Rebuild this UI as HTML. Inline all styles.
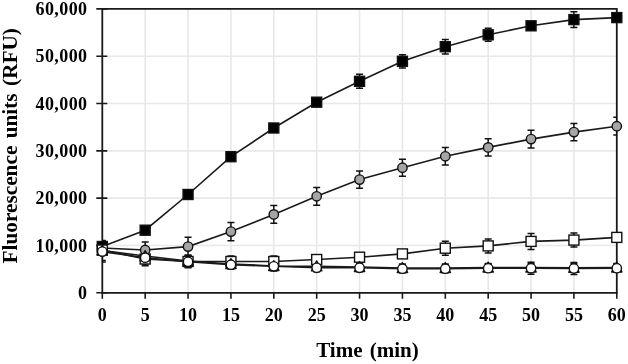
<!DOCTYPE html>
<html><head><meta charset="utf-8"><style>
html,body{margin:0;padding:0;background:#fff;width:628px;height:364px;overflow:hidden}
svg{display:block;will-change:transform}
text{font-family:"Liberation Serif",serif}
</style></head><body>
<svg width="628" height="364" viewBox="0 0 628 364">
<rect width="628" height="364" fill="#fff"/>
<defs><clipPath id="pa"><rect x="102.30" y="8.90" width="514.50" height="283.90"/></clipPath></defs>
<path d="M145.18 8.90V292.80 M188.05 8.90V292.80 M230.93 8.90V292.80 M273.80 8.90V292.80 M316.68 8.90V292.80 M359.55 8.90V292.80 M402.43 8.90V292.80 M445.30 8.90V292.80 M488.18 8.90V292.80 M531.05 8.90V292.80 M573.92 8.90V292.80 M102.30 245.48H616.80 M102.30 198.17H616.80 M102.30 150.85H616.80 M102.30 103.53H616.80 M102.30 56.22H616.80" stroke="#e8e8e8" stroke-width="1.6" fill="none"/>
<path d="M102.30 8.90H616.80V292.80" stroke="#1a1a1a" stroke-width="1.8" fill="none"/>
<path d="M102.30 8.00V292.80H617.70" stroke="#1a1a1a" stroke-width="1.8" fill="none"/>
<path d="M96.30 292.80H107.30 M96.30 245.48H107.30 M96.30 198.17H107.30 M96.30 150.85H107.30 M96.30 103.53H107.30 M96.30 56.22H107.30 M96.30 8.90H107.30 M102.30 292.80V298.80 M145.18 292.80V298.80 M188.05 292.80V298.80 M230.93 292.80V298.80 M273.80 292.80V298.80 M316.68 292.80V298.80 M359.55 292.80V298.80 M402.43 292.80V298.80 M445.30 292.80V298.80 M488.18 292.80V298.80 M531.05 292.80V298.80 M573.92 292.80V298.80 M616.80 292.80V298.80" stroke="#1a1a1a" stroke-width="1.6" fill="none"/>
<path d="M102.30 242.00V254.00M98.80 242.00H105.80M98.80 254.00H105.80 M145.18 242.00V258.00M141.68 242.00H148.68M141.68 258.00H148.68 M188.05 237.30V255.90M184.55 237.30H191.55M184.55 255.90H191.55 M230.93 222.40V240.80M227.43 222.40H234.43M227.43 240.80H234.43 M273.80 205.60V223.20M270.30 205.60H277.30M270.30 223.20H277.30 M316.68 187.40V205.20M313.18 187.40H320.18M313.18 205.20H320.18 M359.55 170.90V188.30M356.05 170.90H363.05M356.05 188.30H363.05 M402.43 159.20V176.20M398.93 159.20H405.93M398.93 176.20H405.93 M445.30 147.50V165.10M441.80 147.50H448.80M441.80 165.10H448.80 M488.18 138.70V156.10M484.68 138.70H491.68M484.68 156.10H491.68 M531.05 130.30V147.90M527.55 130.30H534.55M527.55 147.90H534.55 M573.92 123.40V140.80M570.42 123.40H577.42M570.42 140.80H577.42 M616.80 117.30V135.10M613.30 117.30H620.30M613.30 135.10H620.30" stroke="#111" stroke-width="1.5" fill="none" clip-path="url(#pa)"/>
<path d="M102.30 241.00V252.00M98.80 241.00H105.80M98.80 252.00H105.80 M145.18 227.20V233.20M141.68 227.20H148.68M141.68 233.20H148.68 M188.05 191.50V197.50M184.55 191.50H191.55M184.55 197.50H191.55 M230.93 153.70V159.70M227.43 153.70H234.43M227.43 159.70H234.43 M273.80 125.00V131.00M270.30 125.00H277.30M270.30 131.00H277.30 M316.68 99.20V105.20M313.18 99.20H320.18M313.18 105.20H320.18 M359.55 74.30V88.30M356.05 74.30H363.05M356.05 88.30H363.05 M402.43 54.70V67.90M398.93 54.70H405.93M398.93 67.90H405.93 M445.30 39.40V54.00M441.80 39.40H448.80M441.80 54.00H448.80 M488.18 28.30V41.30M484.68 28.30H491.68M484.68 41.30H491.68 M531.05 21.80V29.80M527.55 21.80H534.55M527.55 29.80H534.55 M573.92 11.80V27.40M570.42 11.80H577.42M570.42 27.40H577.42 M616.80 13.60V21.60M613.30 13.60H620.30M613.30 21.60H620.30" stroke="#111" stroke-width="1.5" fill="none" clip-path="url(#pa)"/>
<path d="M102.30 246.00V254.00M98.80 246.00H105.80M98.80 254.00H105.80 M145.18 256.00V262.00M141.68 256.00H148.68M141.68 262.00H148.68 M188.05 256.50V266.50M184.55 256.50H191.55M184.55 266.50H191.55 M230.93 256.00V267.00M227.43 256.00H234.43M227.43 267.00H234.43 M273.80 256.00V267.00M270.30 256.00H277.30M270.30 267.00H277.30 M316.68 255.50V263.50M313.18 255.50H320.18M313.18 263.50H320.18 M359.55 253.20V261.20M356.05 253.20H363.05M356.05 261.20H363.05 M402.43 249.90V257.90M398.93 249.90H405.93M398.93 257.90H405.93 M445.30 241.20V255.20M441.80 241.20H448.80M441.80 255.20H448.80 M488.18 238.90V252.90M484.68 238.90H491.68M484.68 252.90H491.68 M531.05 233.40V249.40M527.55 233.40H534.55M527.55 249.40H534.55 M573.92 233.10V247.10M570.42 233.10H577.42M570.42 247.10H577.42 M616.80 233.40V241.40M613.30 233.40H620.30M613.30 241.40H620.30" stroke="#111" stroke-width="1.5" fill="none" clip-path="url(#pa)"/>
<path d="M102.30 240.50V260.50M98.80 240.50H105.80M98.80 260.50H105.80 M145.18 248.00V264.00M141.68 248.00H148.68M141.68 264.00H148.68 M188.05 255.00V267.00M184.55 255.00H191.55M184.55 267.00H191.55 M230.93 259.00V269.00M227.43 259.00H234.43M227.43 269.00H234.43 M273.80 261.00V271.00M270.30 261.00H277.30M270.30 271.00H277.30 M316.68 262.40V270.40M313.18 262.40H320.18M313.18 270.40H320.18 M359.55 263.00V271.00M356.05 263.00H363.05M356.05 271.00H363.05 M402.43 264.00V272.00M398.93 264.00H405.93M398.93 272.00H405.93 M445.30 264.00V272.00M441.80 264.00H448.80M441.80 272.00H448.80 M488.18 263.60V271.60M484.68 263.60H491.68M484.68 271.60H491.68 M531.05 263.50V271.50M527.55 263.50H534.55M527.55 271.50H534.55 M573.92 263.70V271.70M570.42 263.70H577.42M570.42 271.70H577.42 M616.80 263.50V271.50M613.30 263.50H620.30M613.30 271.50H620.30" stroke="#111" stroke-width="1.5" fill="none" clip-path="url(#pa)"/>
<path d="M102.30 241.30V261.90M98.80 241.30H105.80M98.80 261.90H105.80 M145.18 249.70V265.70M141.68 249.70H148.68M141.68 265.70H148.68 M188.05 255.80V267.80M184.55 255.80H191.55M184.55 267.80H191.55 M230.93 260.70V268.70M227.43 260.70H234.43M227.43 268.70H234.43 M273.80 262.30V270.30M270.30 262.30H277.30M270.30 270.30H277.30 M316.68 263.80V271.80M313.18 263.80H320.18M313.18 271.80H320.18 M359.55 263.80V271.80M356.05 263.80H363.05M356.05 271.80H363.05 M402.43 264.70V272.70M398.93 264.70H405.93M398.93 272.70H405.93 M445.30 264.70V272.70M441.80 264.70H448.80M441.80 272.70H448.80 M488.18 264.20V272.20M484.68 264.20H491.68M484.68 272.20H491.68 M531.05 262.20V274.20M527.55 262.20H534.55M527.55 274.20H534.55 M573.92 262.50V274.50M570.42 262.50H577.42M570.42 274.50H577.42 M616.80 264.20V272.20M613.30 264.20H620.30M613.30 272.20H620.30" stroke="#111" stroke-width="1.5" fill="none" clip-path="url(#pa)"/>
<path d="M102.30 248.00 L145.18 250.00 L188.05 246.60 L230.93 231.60 L273.80 214.40 L316.68 196.30 L359.55 179.60 L402.43 167.70 L445.30 156.30 L488.18 147.40 L531.05 139.10 L573.92 132.10 L616.80 126.20" stroke="#1a1a1a" stroke-width="1.6" fill="none"/>
<circle cx="102.30" cy="248.00" r="4.7" fill="#a5a5a5" stroke="#111" stroke-width="1.4"/><circle cx="145.18" cy="250.00" r="4.7" fill="#a5a5a5" stroke="#111" stroke-width="1.4"/><circle cx="188.05" cy="246.60" r="4.7" fill="#a5a5a5" stroke="#111" stroke-width="1.4"/><circle cx="230.93" cy="231.60" r="4.7" fill="#a5a5a5" stroke="#111" stroke-width="1.4"/><circle cx="273.80" cy="214.40" r="4.7" fill="#a5a5a5" stroke="#111" stroke-width="1.4"/><circle cx="316.68" cy="196.30" r="4.7" fill="#a5a5a5" stroke="#111" stroke-width="1.4"/><circle cx="359.55" cy="179.60" r="4.7" fill="#a5a5a5" stroke="#111" stroke-width="1.4"/><circle cx="402.43" cy="167.70" r="4.7" fill="#a5a5a5" stroke="#111" stroke-width="1.4"/><circle cx="445.30" cy="156.30" r="4.7" fill="#a5a5a5" stroke="#111" stroke-width="1.4"/><circle cx="488.18" cy="147.40" r="4.7" fill="#a5a5a5" stroke="#111" stroke-width="1.4"/><circle cx="531.05" cy="139.10" r="4.7" fill="#a5a5a5" stroke="#111" stroke-width="1.4"/><circle cx="573.92" cy="132.10" r="4.7" fill="#a5a5a5" stroke="#111" stroke-width="1.4"/><circle cx="616.80" cy="126.20" r="4.7" fill="#a5a5a5" stroke="#111" stroke-width="1.4"/>
<path d="M102.30 246.50 L145.18 230.20 L188.05 194.50 L230.93 156.70 L273.80 128.00 L316.68 102.20 L359.55 81.30 L402.43 61.30 L445.30 46.70 L488.18 34.80 L531.05 25.80 L573.92 19.60 L616.80 17.60" stroke="#1a1a1a" stroke-width="1.6" fill="none"/>
<rect x="97.30" y="241.50" width="10" height="10" fill="#000" stroke="#111" stroke-width="1.4"/><rect x="140.18" y="225.20" width="10" height="10" fill="#000" stroke="#111" stroke-width="1.4"/><rect x="183.05" y="189.50" width="10" height="10" fill="#000" stroke="#111" stroke-width="1.4"/><rect x="225.93" y="151.70" width="10" height="10" fill="#000" stroke="#111" stroke-width="1.4"/><rect x="268.80" y="123.00" width="10" height="10" fill="#000" stroke="#111" stroke-width="1.4"/><rect x="311.68" y="97.20" width="10" height="10" fill="#000" stroke="#111" stroke-width="1.4"/><rect x="354.55" y="76.30" width="10" height="10" fill="#000" stroke="#111" stroke-width="1.4"/><rect x="397.43" y="56.30" width="10" height="10" fill="#000" stroke="#111" stroke-width="1.4"/><rect x="440.30" y="41.70" width="10" height="10" fill="#000" stroke="#111" stroke-width="1.4"/><rect x="483.18" y="29.80" width="10" height="10" fill="#000" stroke="#111" stroke-width="1.4"/><rect x="526.05" y="20.80" width="10" height="10" fill="#000" stroke="#111" stroke-width="1.4"/><rect x="568.92" y="14.60" width="10" height="10" fill="#000" stroke="#111" stroke-width="1.4"/><rect x="611.80" y="12.60" width="10" height="10" fill="#000" stroke="#111" stroke-width="1.4"/>
<path d="M102.30 250.00 L145.18 259.00 L188.05 261.50 L230.93 261.50 L273.80 261.50 L316.68 259.50 L359.55 257.20 L402.43 253.90 L445.30 248.20 L488.18 245.90 L531.05 241.40 L573.92 240.10 L616.80 237.40" stroke="#1a1a1a" stroke-width="1.6" fill="none"/>
<rect x="97.30" y="245.00" width="10" height="10" fill="#fff" stroke="#111" stroke-width="1.4"/><rect x="140.18" y="254.00" width="10" height="10" fill="#fff" stroke="#111" stroke-width="1.4"/><rect x="183.05" y="256.50" width="10" height="10" fill="#fff" stroke="#111" stroke-width="1.4"/><rect x="225.93" y="256.50" width="10" height="10" fill="#fff" stroke="#111" stroke-width="1.4"/><rect x="268.80" y="256.50" width="10" height="10" fill="#fff" stroke="#111" stroke-width="1.4"/><rect x="311.68" y="254.50" width="10" height="10" fill="#fff" stroke="#111" stroke-width="1.4"/><rect x="354.55" y="252.20" width="10" height="10" fill="#fff" stroke="#111" stroke-width="1.4"/><rect x="397.43" y="248.90" width="10" height="10" fill="#fff" stroke="#111" stroke-width="1.4"/><rect x="440.30" y="243.20" width="10" height="10" fill="#fff" stroke="#111" stroke-width="1.4"/><rect x="483.18" y="240.90" width="10" height="10" fill="#fff" stroke="#111" stroke-width="1.4"/><rect x="526.05" y="236.40" width="10" height="10" fill="#fff" stroke="#111" stroke-width="1.4"/><rect x="568.92" y="235.10" width="10" height="10" fill="#fff" stroke="#111" stroke-width="1.4"/><rect x="611.80" y="232.40" width="10" height="10" fill="#fff" stroke="#111" stroke-width="1.4"/>
<path d="M102.30 250.50 L145.18 256.00 L188.05 261.00 L230.93 264.00 L273.80 266.00 L316.68 266.40 L359.55 267.00 L402.43 268.00 L445.30 268.00 L488.18 267.60 L531.05 267.50 L573.92 267.70 L616.80 267.50" stroke="#1a1a1a" stroke-width="1.6" fill="none"/>
<path d="M102.30 245.00L107.50 255.00L97.10 255.00Z" fill="none" stroke="#111" stroke-width="1.4" stroke-linejoin="round"/><path d="M145.18 250.50L150.38 260.50L139.98 260.50Z" fill="none" stroke="#111" stroke-width="1.4" stroke-linejoin="round"/><path d="M188.05 255.50L193.25 265.50L182.85 265.50Z" fill="none" stroke="#111" stroke-width="1.4" stroke-linejoin="round"/><path d="M230.93 258.50L236.12 268.50L225.73 268.50Z" fill="none" stroke="#111" stroke-width="1.4" stroke-linejoin="round"/><path d="M273.80 260.50L279.00 270.50L268.60 270.50Z" fill="none" stroke="#111" stroke-width="1.4" stroke-linejoin="round"/><path d="M316.68 260.90L321.88 270.90L311.48 270.90Z" fill="none" stroke="#111" stroke-width="1.4" stroke-linejoin="round"/><path d="M359.55 261.50L364.75 271.50L354.35 271.50Z" fill="none" stroke="#111" stroke-width="1.4" stroke-linejoin="round"/><path d="M402.43 262.50L407.62 272.50L397.23 272.50Z" fill="none" stroke="#111" stroke-width="1.4" stroke-linejoin="round"/><path d="M445.30 262.50L450.50 272.50L440.10 272.50Z" fill="none" stroke="#111" stroke-width="1.4" stroke-linejoin="round"/><path d="M488.18 262.10L493.38 272.10L482.98 272.10Z" fill="none" stroke="#111" stroke-width="1.4" stroke-linejoin="round"/><path d="M531.05 262.00L536.25 272.00L525.85 272.00Z" fill="none" stroke="#111" stroke-width="1.4" stroke-linejoin="round"/><path d="M573.92 262.20L579.12 272.20L568.72 272.20Z" fill="none" stroke="#111" stroke-width="1.4" stroke-linejoin="round"/><path d="M616.80 262.00L622.00 272.00L611.60 272.00Z" fill="none" stroke="#111" stroke-width="1.4" stroke-linejoin="round"/>
<path d="M102.30 251.60 L145.18 257.70 L188.05 261.80 L230.93 264.70 L273.80 266.30 L316.68 267.80 L359.55 267.80 L402.43 268.70 L445.30 268.70 L488.18 268.20 L531.05 268.20 L573.92 268.50 L616.80 268.20" stroke="#1a1a1a" stroke-width="1.6" fill="none"/>
<circle cx="102.30" cy="251.60" r="4.7" fill="#fff" stroke="#111" stroke-width="1.4"/><circle cx="145.18" cy="257.70" r="4.7" fill="#fff" stroke="#111" stroke-width="1.4"/><circle cx="188.05" cy="261.80" r="4.7" fill="#fff" stroke="#111" stroke-width="1.4"/><circle cx="230.93" cy="264.70" r="4.7" fill="#fff" stroke="#111" stroke-width="1.4"/><circle cx="273.80" cy="266.30" r="4.7" fill="#fff" stroke="#111" stroke-width="1.4"/><circle cx="316.68" cy="267.80" r="4.7" fill="#fff" stroke="#111" stroke-width="1.4"/><circle cx="359.55" cy="267.80" r="4.7" fill="#fff" stroke="#111" stroke-width="1.4"/><circle cx="402.43" cy="268.70" r="4.7" fill="#fff" stroke="#111" stroke-width="1.4"/><circle cx="445.30" cy="268.70" r="4.7" fill="#fff" stroke="#111" stroke-width="1.4"/><circle cx="488.18" cy="268.20" r="4.7" fill="#fff" stroke="#111" stroke-width="1.4"/><circle cx="531.05" cy="268.20" r="4.7" fill="#fff" stroke="#111" stroke-width="1.4"/><circle cx="573.92" cy="268.50" r="4.7" fill="#fff" stroke="#111" stroke-width="1.4"/><circle cx="616.80" cy="268.20" r="4.7" fill="#fff" stroke="#111" stroke-width="1.4"/>
<g font-family="Liberation Serif" font-weight="bold" font-size="18" fill="#000"><text x="87.40" y="298.90" text-anchor="end" letter-spacing="0.38">0</text><text x="87.40" y="251.58" text-anchor="end" letter-spacing="0.38">10,000</text><text x="87.40" y="204.27" text-anchor="end" letter-spacing="0.38">20,000</text><text x="87.40" y="156.95" text-anchor="end" letter-spacing="0.38">30,000</text><text x="87.40" y="109.63" text-anchor="end" letter-spacing="0.38">40,000</text><text x="87.40" y="62.32" text-anchor="end" letter-spacing="0.38">50,000</text><text x="87.40" y="15.00" text-anchor="end" letter-spacing="0.38">60,000</text><text x="102.30" y="320.50" text-anchor="middle">0</text><text x="145.18" y="320.50" text-anchor="middle">5</text><text x="188.05" y="320.50" text-anchor="middle">10</text><text x="230.93" y="320.50" text-anchor="middle">15</text><text x="273.80" y="320.50" text-anchor="middle">20</text><text x="316.68" y="320.50" text-anchor="middle">25</text><text x="359.55" y="320.50" text-anchor="middle">30</text><text x="402.43" y="320.50" text-anchor="middle">35</text><text x="445.30" y="320.50" text-anchor="middle">40</text><text x="488.18" y="320.50" text-anchor="middle">45</text><text x="531.05" y="320.50" text-anchor="middle">50</text><text x="573.92" y="320.50" text-anchor="middle">55</text><text x="616.80" y="320.50" text-anchor="middle">60</text></g>
<text x="367.5" y="356.7" text-anchor="middle" font-family="Liberation Serif" font-weight="bold" font-size="21" word-spacing="2" fill="#000">Time (min)</text>
<text transform="translate(16.8 145.8) rotate(-90)" text-anchor="middle" font-family="Liberation Serif" font-weight="bold" font-size="21.3" word-spacing="2" fill="#000">Fluorescence units (RFU)</text>
</svg>
</body></html>
